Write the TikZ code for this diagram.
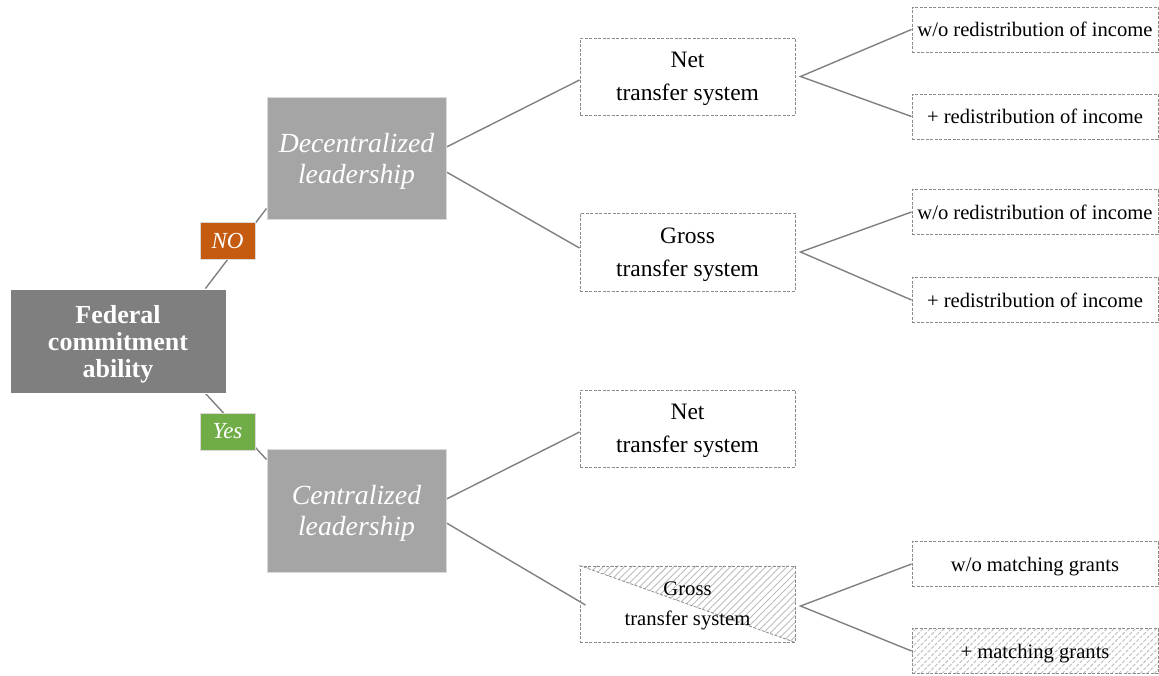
\documentclass[tikz,border=0pt]{standalone}
\usepackage{fontspec}
\setmainfont{Liberation Serif}
\usetikzlibrary{patterns.meta,backgrounds,calc}
\definecolor{rootgray}{HTML}{7F7F7F}
\definecolor{leadgray}{HTML}{A5A5A5}
\definecolor{nocol}{HTML}{C55A11}
\definecolor{yescol}{HTML}{70AD47}
\definecolor{linegray}{HTML}{808080}
\definecolor{boxline}{HTML}{8C8C8C}
\definecolor{hatch}{HTML}{BCBCBC}
\tikzset{
  conn/.style={draw=linegray, line width=1.4pt},
  rootbox/.style={fill=rootgray, draw=white, line width=0.8pt, text=white, align=center, inner sep=0pt,
    minimum width=216pt, minimum height=104pt, text depth=-1pt, font=\bfseries\fontsize{26}{27}\selectfont},
  leadbox/.style={fill=leadgray, draw=white!85!black, line width=1pt, text=white, align=center, inner sep=0pt,
    minimum width=179pt, minimum height=122pt, text depth=-1pt, font=\itshape\fontsize{27.7}{31}\selectfont},
  tagbox/.style={draw=white!85!black, line width=1pt, text=white, inner sep=0pt,
    minimum width=55pt, minimum height=37pt, font=\itshape\fontsize{23}{26}\selectfont},
  box/.style={draw=boxline, dash pattern=on 3pt off 1.5pt, line width=1pt, align=center, inner sep=0pt,
    minimum width=215pt, minimum height=77pt, text depth=-1pt, font=\fontsize{23.5}{33}\selectfont},
  leaf/.style={draw=boxline, dash pattern=on 3pt off 1.5pt, line width=1pt, align=center, inner sep=0pt,
    minimum width=246pt, minimum height=45pt, text depth=0pt, font=\fontsize{20.6}{24}\selectfont},
  hatched/.style={pattern={Lines[angle=45,distance=5pt,line width=0.9pt]}, pattern color=hatch},
}
\begin{document}
\begin{tikzpicture}[x=1pt,y=-1pt]
\useasboundingbox (0,0) rectangle (1159,675);
% main nodes
\node[rootbox] (root) at (118,341) {Federal\\commitment\\ability};
\node[leadbox] (dec) at (356.5,158) {Decentralized\\leadership};
\node[leadbox, minimum height=123pt] (cen) at (356.5,510.5) {Centralized\\leadership};
\node[tagbox, fill=nocol] (no) at (227.5,240.5) {NO};
\node[tagbox, fill=yescol] (yes) at (227.5,431.5) {Yes};
% second level
\node[box] (net1) at (687.5,76.5) {Net\\transfer system};
\node[box, minimum height=78pt] (gross1) at (687.5,252) {Gross\\transfer system};
\node[box] (net2) at (687.5,428.5) {Net\\transfer system};
\node[box, minimum height=76pt, text depth=-8pt, font=\fontsize{20.7}{30}\selectfont] (gross2) at (687.5,604) {Gross\\transfer system};
% leaves
\node[leaf] (l1) at (1035,29.5) {w/o redistribution of income};
\node[leaf] (l2) at (1035,116.5) {+ redistribution of income};
\node[leaf] (l3) at (1035,212) {w/o redistribution of income};
\node[leaf] (l4) at (1035,300) {+ redistribution of income};
\node[leaf] (l5) at (1035,564) {w/o matching grants};
\node[leaf, hatched] (l6) at (1035,651) {+ matching grants};
% connectors
\begin{scope}[on background layer]
\fill[hatched] (gross2.north west) -- (gross2.north east) -- (gross2.south east) -- cycle;
\draw[boxline, dash pattern=on 3pt off 1.5pt, line width=0.8pt] (gross2.north west) -- (gross2.south east);
\draw[conn] ($(root.north east)+(-21,0)$) -- ($(dec.south west)+(0,-11)$);
\draw[conn] ($(root.south east)+(-21,0)$) -- ($(cen.north west)+(0,11)$);
\draw[conn] ($(dec.east)+(0,-11)$) -- ($(net1.west)+(0,3.5)$);
\draw[conn] ($(dec.east)+(0,14)$) -- ($(gross1.west)+(0,-4)$);
\draw[conn] ($(cen.east)+(0,-11.5)$) -- ($(net2.west)+(0,3.5)$);
\draw[conn] ($(cen.east)+(0,12.5)$) -- ($(gross2.west)+(6,1)$);
\coordinate (f1) at ($(net1.east)+(5,0)$);
\coordinate (f2) at ($(gross1.east)+(5,0)$);
\coordinate (f3) at ($(gross2.east)+(5,2)$);
\draw[conn] (l1.west) -- (f1) -- (l2.west);
\draw[conn] (l3.west) -- (f2) -- (l4.west);
\draw[conn] (l5.west) -- (f3) -- (l6.west);
\end{scope}
\end{tikzpicture}
\end{document}
